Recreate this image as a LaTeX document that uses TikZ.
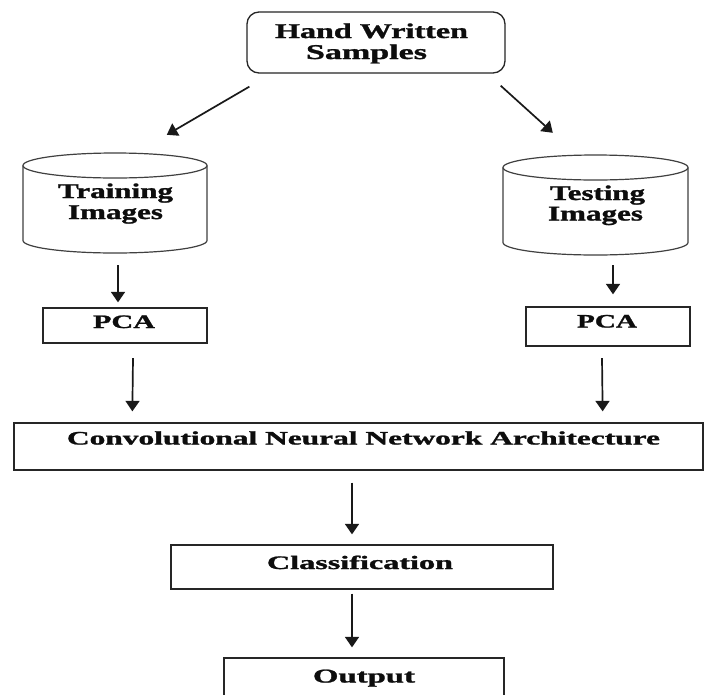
\documentclass[tikz,border=0pt]{standalone}
\usepackage{fontspec}
\usepackage{graphicx}
\setmainfont{Liberation Serif}[BoldFeatures={FakeBold=1.2}]
\usetikzlibrary{arrows.meta,calc}
\newcommand\fitw[2]{\setbox0\hbox{#2}\pgfmathsetmacro\fitf{#1/\the\wd0}\scalebox{\fitf}[1]{#2}}
\tikzset{
  box/.style={draw=black!85, line width=1.3pt, inner sep=0pt, fill=white},
  ghost/.style={inner sep=0pt},
  big/.style={inner sep=0pt, anchor=base, text=black!95, font=\fontsize{21}{20}\selectfont\bfseries},
  small/.style={inner sep=0pt, anchor=base, text=black!95, font=\fontsize{19}{20}\selectfont\bfseries},
  cyl/.style={draw=black!75, line width=1.2pt},
  arr/.style={draw=black!90, line width=1.7pt, -{Triangle[length=10.5pt,width=14pt]}}
}
\begin{document}
\begin{tikzpicture}[x=1pt,y=1pt]
\useasboundingbox[fill=white] (0,0) rectangle (704,-694);
% boxes
\node[box, rounded corners=12pt, minimum width=258, minimum height=61] (hand) at (376,-42.5) {};
\node[ghost, minimum width=184, minimum height=100] (train) at (115,-203) {};
\node[ghost, minimum width=185, minimum height=100] (test) at (595.5,-205) {};
\node[box, minimum width=164, minimum height=35] (pca1) at (125,-325.5) {};
\node[box, minimum width=164, minimum height=39] (pca2) at (608,-326.5) {};
\node[box, minimum width=689, minimum height=47] (cnn) at (358.5,-446.5) {};
\node[box, minimum width=382, minimum height=44] (cls) at (362,-567) {};
\node[box, minimum width=280, minimum height=44] (out) at (364,-680) {};
% cylinders
\draw[cyl] (23,-165.5) -- (23,-240.5) arc[start angle=180, end angle=360, x radius=92, y radius=12.5] -- (207,-165.5);
\draw[cyl] (115,-165.5) ellipse [x radius=92, y radius=12.5];
\draw[cyl] (503,-167.5) -- (503,-242.5) arc[start angle=180, end angle=360, x radius=92.5, y radius=12.5] -- (688,-167.5);
\draw[cyl] (595.5,-167.5) ellipse [x radius=92.5, y radius=12.5];
% texts
\node[big] (handA) at (371.5,-38) {\fitw{193}{Hand Written}};
\node[big] (handB) at (366.5,-59) {\fitw{121}{Samples}};
\node[big] (trainA) at (115.5,-198) {\fitw{115}{Training}};
\node[big] (trainB) at (115.5,-219) {\fitw{95}{Images}};
\node[big] (testA) at (597.5,-200) {\fitw{95}{Testing}};
\node[big] (testB) at (595.5,-220.5) {\fitw{95}{Images}};
\node[small] (pca1t) at (124,-328) {\fitw{62}{PCA}};
\node[small] (pca2t) at (607,-327.5) {\fitw{60}{PCA}};
\node[small] (cnnt) at (363.5,-444.5) {\fitw{593}{Convolutional Neural Network Architecture}};
\node[small] (clst) at (360,-569) {\fitw{186}{Classification}};
\node[small, font=\fontsize{19.5}{20}\selectfont\bfseries] (outt) at (364,-682.5) {\fitw{102}{Output}};
% arrows
\draw[arr] ([xshift=3pt,yshift=-13pt]hand.south west) -- ([xshift=144pt,yshift=18pt]train.north west);
\draw[arr] ([xshift=-5pt,yshift=-12pt]hand.south east) -- ([xshift=50pt,yshift=22pt]test.north west);
\draw[arr] ([xshift=3pt,yshift=-12pt]train.south) -- ([xshift=-7pt,yshift=5pt]pca1.north);
\draw[arr] ([xshift=17.5pt,yshift=-10pt]test.south) -- ([xshift=5pt,yshift=12pt]pca2.north);
\draw[arr] ([xshift=8pt,yshift=-14.5pt]pca1.south) -- ([xshift=119pt,yshift=11pt]cnn.north west);
\draw[arr] ([xshift=-6pt,yshift=-11.5pt]pca2.south) -- ([xshift=-101pt,yshift=11pt]cnn.north east);
\draw[arr] ([xshift=-6.5pt,yshift=-12pt]cnn.south) -- ([xshift=-10pt,yshift=10pt]cls.north);
\draw[arr] ([xshift=-10pt,yshift=-4pt]cls.south) -- ([xshift=-12pt,yshift=10pt]out.north);
\end{tikzpicture}
\end{document}
